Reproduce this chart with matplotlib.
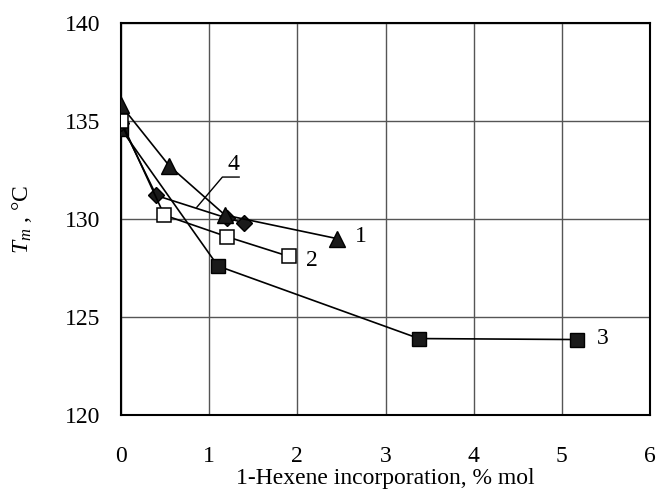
import matplotlib.pyplot as plt

# values
x1 = [0.0, 0.55, 1.18, 2.45]
y1 = [135.8, 132.7, 130.2, 129.0]
x2 = [0.0, 0.49, 1.20, 1.90]
y2 = [135.0, 130.2, 129.1, 128.1]
x3 = [0.0, 1.10, 3.38, 5.17]
y3 = [134.6, 127.6, 123.9, 123.85]
x4 = [0.0, 0.40, 1.20, 1.40]
y4 = [134.9, 131.2, 130.05, 129.8]

xticks = [0, 1, 2, 3, 4, 5, 6]
yticks = [120, 125, 130, 135, 140]

plt.rcParams['font.family'] = 'Liberation Serif'
plt.rcParams['mathtext.fontset'] = 'custom'
plt.rcParams['mathtext.it'] = 'Liberation Serif:italic'
plt.rcParams['mathtext.rm'] = 'Liberation Serif'

fig = plt.figure(figsize=(6.58, 4.93), dpi=100)
ax = fig.add_axes([121 / 658, 1 - 415 / 493, 529 / 658, 392 / 493])

lw = 1.2
ax.plot(x3, y3, color="black", lw=lw, marker="s", ms=10, mfc="#1a1a1a", mec="black", zorder=3)
ax.plot(x4, y4, color="black", lw=lw, marker="D", ms=8, mfc="#1a1a1a", mec="black", zorder=4)
ax.plot(x2, y2, color="black", lw=lw, marker="s", ms=10, mfc="white", mec="black", mew=1.1, zorder=5)
ax.plot(x1, y1, color="black", lw=lw, marker="^", ms=11, mfc="#1a1a1a", mec="black", zorder=6)

# curve numbers
ax.text(2.72, 129.1, "1", fontsize=17, ha="center", va="center")
ax.text(2.16, 127.9, "2", fontsize=17, ha="center", va="center")
ax.text(5.46, 123.9, "3", fontsize=17, ha="center", va="center")
ax.text(1.27, 132.8, "4", fontsize=17, ha="center", va="center")
ax.plot([1.34, 1.15, 0.86], [132.14, 132.14, 130.6], color="black", lw=1, zorder=2)

ax.set_xlim(0, 6)
ax.set_ylim(120, 140)
ax.set_xticks(xticks)
ax.set_yticks(yticks)
ax.grid(True, color="#555555", lw=1)
ax.set_axisbelow(True)
for s in ax.spines.values():
    s.set_linewidth(1.5)
ax.tick_params(length=0, labelsize=17)
ax.tick_params(axis="x", pad=22)
ax.tick_params(axis="y", pad=15)

ax.set_xlabel("1-Hexene incorporation, % mol", fontsize=17, labelpad=1)
ax.set_ylabel(r"$T_m$ , °C", fontsize=17, labelpad=22)

fig.savefig("out.png", dpi=100)
